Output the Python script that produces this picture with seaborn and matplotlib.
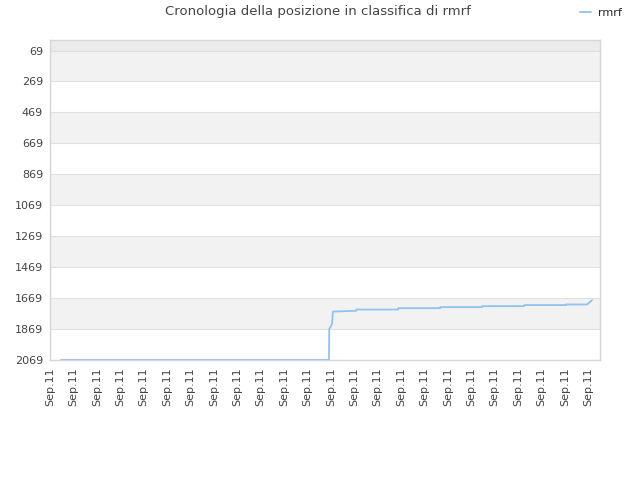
import matplotlib
matplotlib.use("Agg")
import matplotlib.pyplot as plt
import seaborn as sns
import pandas as pd

# data (x in tick-index units, y = rank)
times = [0.47, 11.92, 11.93, 12.05, 12.09, 13.08, 13.09, 14.87, 14.88, 16.67, 16.68,
         18.46, 18.47, 20.26, 20.27, 22.05, 22.06, 22.95, 23.16]
ranks = [2069, 2069, 1869, 1837, 1756, 1751, 1743, 1743, 1734, 1734, 1727,
         1727, 1721, 1721, 1714, 1714, 1710, 1710, 1682]
series_name = "rmrf"
ytick_values = [69, 269, 469, 669, 869, 1069, 1269, 1469, 1669, 1869, 2069]
xtick_labels = ["Sep.11"] * 24
title = "Cronologia della posizione in classifica di rmrf"

sns.set_style("white")
plt.rcParams['font.family'] = ['DejaVu Sans']

df = pd.DataFrame({"t": times, "rank": ranks, "name": series_name})

fig = plt.figure(figsize=(6.4, 4.8), dpi=100)
ax = fig.add_axes([50/640, 1-360/480, 550/640, 320/480])

# alternating bands
ax.axhspan(1, 69, color="#ebebeb", lw=0, zorder=0)
for i in range(len(ytick_values) - 1):
    if i % 2 == 0:
        ax.axhspan(ytick_values[i], ytick_values[i+1], color="#f2f2f2", lw=0, zorder=0)
for v in ytick_values:
    ax.axhline(v, color="#e0e0e0", lw=0.8, zorder=1)

sns.lineplot(data=df, x="t", y="rank", ax=ax, color="#90c3f0", lw=1.3,
             sort=False, estimator=None, legend=False, zorder=3)

ax.set_xlim(0, 23.5)
ax.set_ylim(2069, 1)
ax.set_yticks(ytick_values)
ax.set_yticklabels([str(v) for v in ytick_values])
ax.set_xticks(range(len(xtick_labels)))
ax.set_xticklabels(xtick_labels, rotation=90)
ax.tick_params(axis="both", length=0, labelsize=8, labelcolor="#444444", pad=5)
ax.set_xlabel("")
ax.set_ylabel("")
for s in ax.spines.values():
    s.set_color("#d6d6d6")
    s.set_linewidth(1)

fig.text(318/640, 1-12/480, title, ha="center", va="center", fontsize=9.5, color="#444444")

from matplotlib.lines import Line2D
h = Line2D([0], [0], color="#90c3f0", lw=1.3)
fig.legend([h], [series_name], loc="center right", bbox_to_anchor=(632/640, 1-13/480),
           frameon=False, fontsize=8, handlelength=1.0, handletextpad=0.6)

fig.savefig("out.png", dpi=100)
